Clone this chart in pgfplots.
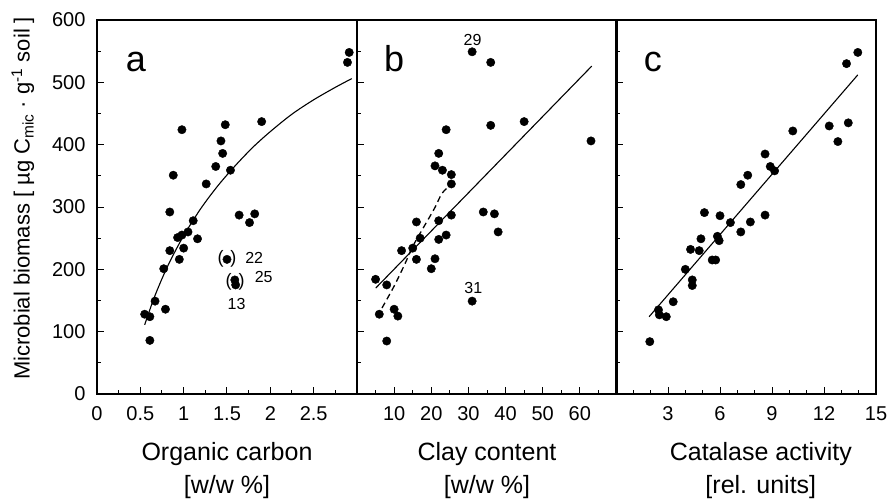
\documentclass[border=0pt]{standalone}
\usepackage{fontspec}
\setmainfont{Liberation Sans}
\usepackage{pgfplots}
\pgfplotsset{compat=1.18}

\pgfplotsset{
  panel/.style={
    scale only axis, width=260pt, height=374pt,
    anchor=south west,
    ymin=0, ymax=600,
    ytick={0,100,...,600}, minor ytick={50,150,...,550},
    tick align=inside, xtick pos=left, ytick pos=left,
    major tick length=7pt, minor tick length=4pt,
    axis line style={line width=1.2pt},
    every tick/.style={black, line width=1pt},
    tick label style={font=\fontsize{20}{22}\selectfont},
    xticklabel style={yshift=-9pt},
    yticklabel style={xshift=-8pt},
    /pgf/number format/assume math mode=true,
    every axis x label/.style={at={(axis description cs:0.5,-0.205)}, anchor=center, align=center,
      font=\fontsize{25}{33}\selectfont},
    every axis y label/.style={at={(axis description cs:-0.285,0.523)}, rotate=90, anchor=center,
      font=\fontsize{22}{24}\selectfont},
  },
  dots/.style={only marks, mark=*, mark size=4.2pt, black},
  fit/.style={black, line width=1.1pt, no marks},
}
\tikzset{note/.style={font=\fontsize{16}{17}\selectfont}}

\begin{document}
\begin{tikzpicture}
\path[use as bounding box] (-97pt,-104pt) rectangle (793pt,394pt);

% a: organic carbon
\begin{axis}[panel, at={(0pt,0pt)},
  xmin=0, xmax=3,
  xtick={0,0.5,...,2.5}, minor xtick={0.25,0.75,...,2.75},
  xlabel={Organic carbon\\{[w/w \%]}},
  ylabel={Microbial biomass [ µg C\textsubscript{mic} · g\textsuperscript{-1} soil ]},
]
\addplot[fit, smooth] coordinates {
  (0.55,111) (0.65,151) (0.75,185) (0.85,215) (1.0,254) (1.2,298) (1.4,335)
  (1.6,367) (1.8,396) (2.0,421) (2.25,449) (2.5,472) (2.75,492) (2.94,506)
};
\addplot[dots] coordinates {
  (0.98,424) (1.48,432) (1.90,437) (1.43,406) (1.45,386) (1.37,365) (1.54,359)
  (0.88,351) (1.26,337) (0.84,292) (1.64,287) (1.82,289) (1.76,275) (1.11,278)
  (1.05,260) (0.98,255) (0.93,251) (1.16,249) (1.00,234) (0.84,230) (0.95,216)
  (0.77,201) (1.50,216) (1.59,183) (1.60,175) (0.67,149) (0.79,136) (0.55,128)
  (0.61,124) (0.61,86) (2.91,548) (2.89,532)
};
\node[font=\fontsize{18}{19}\selectfont] at (axis cs:1.50,217) {(\hspace{7pt})};
\node[font=\fontsize{18}{19}\selectfont] at (axis cs:1.595,180) {(\hspace{7pt})};
\node[note, anchor=west] at (axis cs:1.67,218) {22};
\node[note, anchor=west] at (axis cs:1.78,187) {25};
\node[note] at (axis cs:1.61,144) {13};
\node[font=\fontsize{36}{40}\selectfont, anchor=base] at (rel axis cs:0.15,0.861) {a};
\end{axis}

% b: clay content
\begin{axis}[panel, at={(260pt,0pt)},
  xmin=0, xmax=70,
  xtick={10,20,...,60}, minor xtick={5,15,...,65},
  yticklabels={},
  xlabel={Clay content\\{[w/w \%]}},
]
\addplot[fit] coordinates {(5.05,170) (63.2,526)};
\addplot[fit, smooth, line width=1.3pt, dash pattern=on 6pt off 4pt] coordinates {
  (5.4,124) (9.9,172) (13,210) (15.2,239) (20.6,295) (22.9,322) (25.2,335)
};
\addplot[dots] coordinates {
  (31,549) (36,532) (24,424) (36,431) (45,437) (63,406) (22,386) (21,366)
  (23,359) (25.4,352) (25.4,337) (34,292) (37,289) (38,260) (25.4,287)
  (22,278) (16,276) (17,250) (22,248) (24,255) (12,230) (15,234) (16,216)
  (21,217) (20,201) (5,184) (8,175) (31,149) (10,136) (11,125) (6,128) (8,85)
};
\node[note] at (axis cs:31.1,568) {29};
\node[note] at (axis cs:31.3,170) {31};
\node[font=\fontsize{36}{40}\selectfont, anchor=base] at (rel axis cs:0.143,0.861) {b};
\end{axis}

% c: catalase activity
\begin{axis}[panel, at={(519pt,0pt)},
  xmin=0, xmax=15,
  xtick={3,6,...,15}, minor xtick={1,2,...,14},
  yticklabels={},
  xlabel={Catalase activity\\{[rel. units]}},
  every axis x label/.append style={at={(axis description cs:0.557,-0.205)}},
]
\addplot[fit] coordinates {(1.91,124) (13.95,512)};
\addplot[dots] coordinates {
  (13.95,548) (13.3,530) (13.4,435) (12.3,430) (12.8,405) (10.2,422) (8.6,385)
  (8.9,365) (9.15,358) (7.6,351) (7.2,336) (5.1,291) (6.0,286) (8.6,287)
  (6.6,275) (7.75,276) (7.2,260) (4.9,249) (5.85,253) (5.95,246) (4.3,232)
  (4.8,230) (5.55,215) (5.75,215) (4.0,200) (4.4,183) (4.4,174) (3.3,148)
  (2.45,135) (2.5,127) (2.9,124) (1.95,84)
};
\node[font=\fontsize{36}{40}\selectfont, anchor=base] at (rel axis cs:0.142,0.861) {c};
\end{axis}
\end{tikzpicture}
\end{document}
